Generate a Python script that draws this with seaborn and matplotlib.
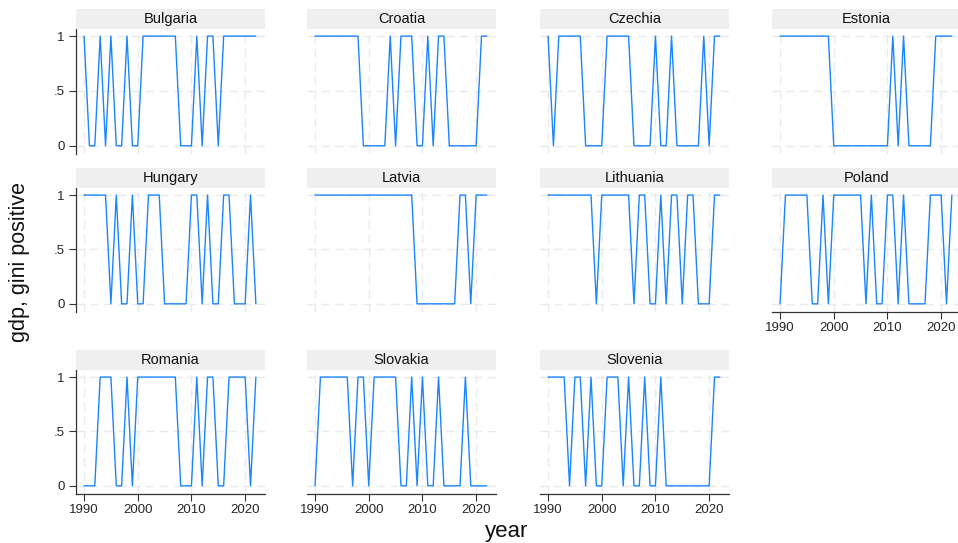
import numpy as np
import pandas as pd
import matplotlib
matplotlib.use("Agg")
import matplotlib.pyplot as plt
import seaborn as sns
from matplotlib.patches import Rectangle

sns.set_style("white")
plt.rcParams['font.family'] = ['Liberation Sans', 'DejaVu Sans']

years = list(range(1990, 2023))
countries = ["Bulgaria", "Croatia", "Czechia", "Estonia", "Hungary", "Latvia",
             "Lithuania", "Poland", "Romania", "Slovakia", "Slovenia"]

bulgaria  = [1,0,0,1,0,1,0,0,1,0,0,1,1,1,1,1,1,1,0,0,0,1,0,1,1,0,1,1,1,1,1,1,1]
croatia   = [1,1,1,1,1,1,1,1,1,0,0,0,0,0,1,0,1,1,1,0,0,1,0,1,1,0,0,0,0,0,0,1,1]
czechia   = [1,0,1,1,1,1,1,0,0,0,0,1,1,1,1,1,0,0,0,0,1,0,0,1,0,0,0,0,0,1,0,1,1]
estonia   = [1,1,1,1,1,1,1,1,1,1,0,0,0,0,0,0,0,0,0,0,0,1,0,1,0,0,0,0,0,1,1,1,1]
hungary   = [1,1,1,1,1,0,1,0,0,1,0,0,1,1,1,0,0,0,0,0,1,1,0,1,0,0,1,1,0,0,0,1,0]
latvia    = [1,1,1,1,1,1,1,1,1,1,1,1,1,1,1,1,1,1,1,0,0,0,0,0,0,0,0,1,1,0,1,1,1]
lithuania = [1,1,1,1,1,1,1,1,1,0,1,1,1,1,1,1,0,1,1,0,0,1,0,1,1,0,1,1,0,0,0,1,1]
poland    = [0,1,1,1,1,1,0,0,1,0,1,1,1,1,1,1,0,1,0,0,1,1,0,1,0,0,0,0,1,1,1,0,1]
romania   = [0,0,0,1,1,1,0,0,1,0,1,1,1,1,1,1,1,1,0,0,0,1,0,1,1,0,0,1,1,1,1,0,1]
slovakia  = [0,1,1,1,1,1,1,0,1,1,0,1,1,1,1,1,0,0,1,0,1,0,0,1,0,0,0,0,1,0,0,0,0]
slovenia  = [1,1,1,1,0,1,1,0,1,0,0,1,1,1,0,1,0,0,1,0,0,1,0,0,0,0,0,0,0,0,0,1,1]

series = [bulgaria, croatia, czechia, estonia, hungary, latvia,
          lithuania, poland, romania, slovakia, slovenia]

x_ticks = [1990, 2000, 2010, 2020]
y_ticks = [0, 0.5, 1]
y_ticklabels = ["0", ".5", "1"]

df = pd.concat([pd.DataFrame({"country": c, "year": years, "value": v})
                for c, v in zip(countries, series)], ignore_index=True)

W, H = 958, 543
fig = plt.figure(figsize=(W / 100, H / 100), dpi=100)

col_left = [76, 307, 540, 772]
pw = 189
rows = [(29, 154), (188, 312), (370, 494)]
strip_h = 20
line_color = "#1a85ff"
grid_color = "#eaeaea"

for i, c in enumerate(countries):
    r, k = divmod(i, 4)
    top, bot = rows[r]
    left = col_left[k]
    ax = fig.add_axes([left / W, 1 - bot / H, pw / W, (bot - top) / H])
    sub = df[df["country"] == c]
    sns.lineplot(data=sub, x="year", y="value", ax=ax, color=line_color,
                 linewidth=1.0, estimator=None)
    ax.set_xlim(1988.5, 2023.7)
    ax.set_ylim(-0.075, 1.065)
    ax.set_xticks(x_ticks)
    ax.set_yticks(y_ticks)
    ax.set_yticklabels(y_ticklabels)
    ax.grid(True, color=grid_color, linestyle=(0, (6, 4)), linewidth=1.0)
    ax.set_axisbelow(True)
    ax.set_xlabel("")
    ax.set_ylabel("")
    for s in ["top", "right"]:
        ax.spines[s].set_visible(False)
    is_bottom = (i + 4 >= len(countries))
    is_left = (k == 0)
    ax.spines["left"].set_visible(is_left)
    ax.spines["bottom"].set_visible(is_bottom)
    for s in ["left", "bottom"]:
        ax.spines[s].set_color("#333333")
        ax.spines[s].set_linewidth(0.9)
    ax.tick_params(axis="y", left=is_left, labelleft=is_left, length=5,
                   width=0.8, color="#333333", labelsize=9.5, pad=3)
    ax.tick_params(axis="x", bottom=is_bottom, labelbottom=is_bottom, length=5,
                   width=0.8, color="#333333", labelsize=9.5, pad=2)
    fig.patches.append(Rectangle((left / W, 1 - top / H), pw / W, strip_h / H,
                                 transform=fig.transFigure, facecolor="#efefef",
                                 edgecolor="none", zorder=0))
    fig.text((left + pw / 2) / W, 1 - (top - strip_h / 2) / H, c,
             ha="center", va="center", fontsize=10.5, color="#111111")

fig.text(20 / W, 1 - 262 / H, "gdp, gini positive", rotation=90,
         ha="center", va="center", fontsize=15.5, color="#111111")
fig.text(507 / W, 1 - 531 / H, "year", ha="center", va="center",
         fontsize=16, color="#111111")

fig.savefig("out.png", dpi=100, facecolor="white")
